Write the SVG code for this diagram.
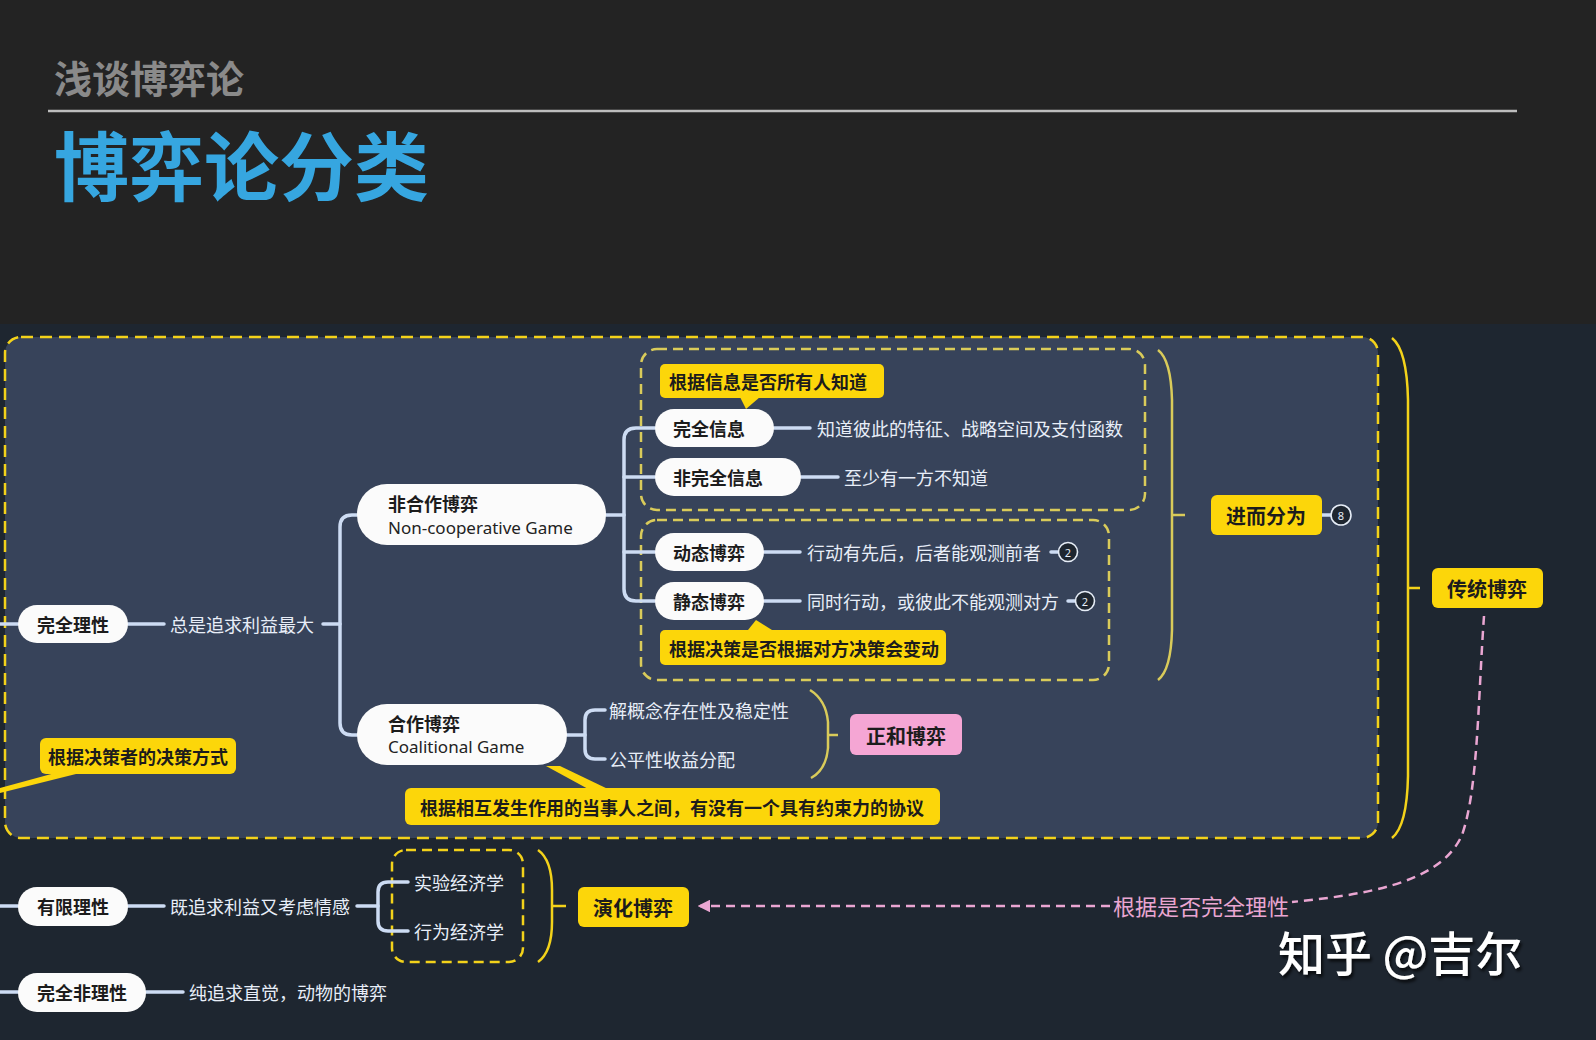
<svg xmlns="http://www.w3.org/2000/svg" width="1596" height="1040" viewBox="0 0 1596 1040">
<defs>
<style>
.cjk{font-family:"Noto Sans CJK SC","Noto Sans",sans-serif}
.pill{fill:#fbfbfb}
.pt{font-family:"Noto Sans CJK SC","Noto Sans",sans-serif;font-size:18px;font-weight:700;fill:#1c1c1c;dominant-baseline:central}
.en{font-family:"Noto Sans","Noto Sans CJK SC",sans-serif;font-size:17px;fill:#222;dominant-baseline:central}
.dt{font-family:"Noto Sans CJK SC","Noto Sans",sans-serif;font-size:18px;fill:#e8eef8;dominant-baseline:central}
.yb{fill:#fcd60a}
.ct{font-family:"Noto Sans CJK SC","Noto Sans",sans-serif;font-size:18px;font-weight:700;fill:#1c1c1c;dominant-baseline:central}
.bt{font-family:"Noto Sans CJK SC","Noto Sans",sans-serif;font-size:20px;font-weight:700;fill:#1c1c1c;dominant-baseline:central;text-anchor:middle}
.ln{fill:none;stroke:#cddcf3;stroke-width:3.5;stroke-linecap:round}
.br{fill:none;stroke:#f3d21a;stroke-width:2.5}
.brm{fill:none;stroke:#d9cb5a;stroke-width:2.5}
.badge{fill:#1e2630;stroke:#e6edf7;stroke-width:1.6}
.bn{font-family:"Noto Sans",sans-serif;font-size:11px;fill:#e6edf7;text-anchor:middle;dominant-baseline:central}
</style>
<marker id="arr" viewBox="0 0 10 10" refX="8" refY="5" markerWidth="5" markerHeight="5" orient="auto">
<path d="M0,0 L10,5 L0,10 z" fill="#eaa6d2"/>
</marker>
<filter id="sh" x="-10%" y="-10%" width="120%" height="130%">
<feDropShadow dx="2" dy="3" stdDeviation="1.5" flood-color="#000" flood-opacity="0.7"/>
</filter>
</defs>

<!-- backgrounds -->
<rect x="0" y="0" width="1596" height="1040" fill="#1e2630"/>
<rect x="0" y="0" width="1596" height="324" fill="#232323"/>

<!-- header -->
<g id="header">
<text x="54" y="93" class="cjk" font-size="38" font-weight="700" fill="#8a8a8a">浅谈博弈论</text>
<line x1="48" y1="111" x2="1517" y2="111" stroke="#bdbdbd" stroke-width="2.5"/>
<text x="54" y="195" class="cjk" font-size="75" font-weight="700" fill="#36a6e0">博弈论分类</text>
</g>

<!-- containers -->
<g id="containers">
<rect x="5" y="337" width="1373" height="501" rx="16" fill="#37435a" stroke="#f3d21a" stroke-width="2.5" stroke-dasharray="12 7"/>
<rect x="641" y="349" width="504" height="161" rx="16" fill="none" stroke="#d9cb5a" stroke-width="2.5" stroke-dasharray="10 6"/>
<rect x="641" y="520" width="468" height="160" rx="16" fill="none" stroke="#d9cb5a" stroke-width="2.5" stroke-dasharray="10 6"/>
<rect x="392" y="850" width="131" height="112" rx="14" fill="none" stroke="#f3d21a" stroke-width="2.5" stroke-dasharray="10 6"/>
</g>

<!-- connectors -->
<g id="connectors">
<path class="ln" d="M0,624 L18,624"/>
<path class="ln" d="M128,624 L164,624"/>
<path class="ln" d="M323,624 L340,624"/>
<path class="ln" d="M357,515 L352,515 Q340,515 340,527 L340,723 Q340,735 352,735 L357,735"/>
<path class="ln" d="M606,515 L624,515"/>
<path class="ln" d="M655,428 L636,428 Q624,428 624,440 L624,589 Q624,601 636,601 L655,601"/>
<path class="ln" d="M624,477 L655,477"/>
<path class="ln" d="M624,552 L655,552"/>
<path class="ln" d="M774,428 L810,428"/>
<path class="ln" d="M801,477 L838,477"/>
<path class="ln" d="M764,552 L800,552"/>
<path class="ln" d="M764,601 L800,601"/>
<path class="ln" d="M1051,552 L1058,552"/>
<path class="ln" d="M1068,601 L1076,601"/>
<path class="ln" d="M1322,515 L1331,515"/>
<path class="ln" d="M567,735 L585,735"/>
<path class="ln" d="M605,710 L595,710 Q585,710 585,720 L585,749 Q585,759 595,759 L605,759"/>
<path class="ln" d="M0,906 L18,906"/>
<path class="ln" d="M128,906 L164,906"/>
<path class="ln" d="M357,906 L378,906"/>
<path class="ln" d="M408,882 L388,882 Q378,882 378,892 L378,921 Q378,931 388,931 L408,931"/>
<path class="ln" d="M0,992 L18,992"/>
<path class="ln" d="M146,992 L183,992"/>
<!-- braces -->
<path class="brm" d="M1158,350 Q1171,360 1172,400 L1172,630 Q1171,670 1158,680 M1172,515 L1185,515"/>
<path class="br" d="M1392,338 Q1407,350 1408,400 L1408,776 Q1407,826 1392,838 M1408,588 L1420,588"/>
<path class="brm" d="M810,690 Q826,700 828,722 L828,748 Q826,770 811,778 M828,735 L838,735"/>
<path class="br" d="M538,850 Q552,860 552,890 L552,922 Q552,952 538,962 M552,906 L566,906"/>
<!-- pink relation -->
<path d="M1484,616 C1478,700 1478,790 1462,835 C1440,885 1360,895 1292,902" fill="none" stroke="#eaa6d2" stroke-width="2.5" stroke-dasharray="9 6"/>
<path d="M1110,906 L700,906" fill="none" stroke="#eaa6d2" stroke-width="2.5" stroke-dasharray="9 6" marker-end="url(#arr)"/>
<!-- callout pointers -->
<polygon points="740,397 760,397 746,409" class="yb"/>
<polygon points="748,630 772,630 756,620" class="yb"/>
<polygon points="546,766 560,766 610,790 590,790" class="yb"/>
<polygon points="55,773 80,773 0,793 0,788" class="yb"/>
</g>

<!-- nodes -->
<g id="n-wqlx"><rect class="pill" x="18" y="605" width="110" height="38" rx="19"/><text class="pt" x="73" y="624" text-anchor="middle">完全理性</text></g>
<g id="n-zsqq"><text class="dt" x="170" y="624">总是追求利益最大</text></g>
<g id="n-fhz"><rect class="pill" x="357" y="484" width="249" height="61" rx="30"/><text class="pt" x="388" y="503">非合作博弈</text><text class="en" x="388" y="527">Non-cooperative Game</text></g>
<g id="n-hz"><rect class="pill" x="357" y="704" width="210" height="61" rx="30"/><text class="pt" x="388" y="723">合作博弈</text><text class="en" x="388" y="746">Coalitional Game</text></g>
<g id="c-xx"><rect class="yb" x="660" y="364" width="224" height="34" rx="5"/><text class="ct" x="669" y="381">根据信息是否所有人知道</text></g>
<g id="n-wqxx"><rect class="pill" x="655" y="409" width="119" height="38" rx="19"/><text class="pt" x="673" y="428">完全信息</text></g>
<g id="n-wqxx-d"><text class="dt" x="817" y="428">知道彼此的特征、战略空间及支付函数</text></g>
<g id="n-fwqxx"><rect class="pill" x="655" y="458" width="146" height="38" rx="19"/><text class="pt" x="673" y="477">非完全信息</text></g>
<g id="n-fwqxx-d"><text class="dt" x="844" y="477">至少有一方不知道</text></g>
<g id="n-dt"><rect class="pill" x="655" y="533" width="109" height="38" rx="19"/><text class="pt" x="673" y="552">动态博弈</text></g>
<g id="n-dt-d"><text class="dt" x="807" y="552">行动有先后，后者能观测前者</text><circle class="badge" cx="1068" cy="552" r="9.5"/><text class="bn" x="1068" y="552">2</text></g>
<g id="n-jt"><rect class="pill" x="655" y="582" width="109" height="38" rx="19"/><text class="pt" x="673" y="601">静态博弈</text></g>
<g id="n-jt-d"><text class="dt" x="807" y="601">同时行动，或彼此不能观测对方</text><circle class="badge" cx="1085" cy="601" r="9.5"/><text class="bn" x="1085" y="601">2</text></g>
<g id="c-jc"><rect class="yb" x="660" y="630" width="286" height="35" rx="5"/><text class="ct" x="669" y="648">根据决策是否根据对方决策会变动</text></g>
<g id="n-jgn"><text class="dt" x="609" y="710">解概念存在性及稳定性</text></g>
<g id="n-gpx"><text class="dt" x="609" y="759">公平性收益分配</text></g>
<g id="n-zh"><rect x="850" y="714" width="112" height="41" rx="6" fill="#f5a6d4"/><text class="bt" x="906" y="735">正和博弈</text></g>
<g id="c-xy"><rect class="yb" x="405" y="788" width="535" height="37" rx="6"/><text class="ct" x="420" y="807">根据相互发生作用的当事人之间，有没有一个具有约束力的协议</text></g>
<g id="c-fs"><rect class="yb" x="40" y="738" width="196" height="36" rx="6"/><text class="ct" x="48" y="756">根据决策者的决策方式</text></g>
<g id="n-jf"><rect class="yb" x="1211" y="495" width="111" height="40" rx="6"/><text class="bt" x="1266" y="515">进而分为</text><circle class="badge" cx="1341" cy="515" r="10"/><text class="bn" x="1341" y="515">8</text></g>
<g id="n-ct"><rect class="yb" x="1432" y="568" width="111" height="40" rx="6"/><text class="bt" x="1487" y="588">传统博弈</text></g>
<g id="n-yxlx"><rect class="pill" x="18" y="887" width="110" height="39" rx="19"/><text class="pt" x="73" y="906" text-anchor="middle">有限理性</text></g>
<g id="n-jzq"><text class="dt" x="170" y="906">既追求利益又考虑情感</text></g>
<g id="n-syjj"><text class="dt" x="414" y="882">实验经济学</text></g>
<g id="n-xwjj"><text class="dt" x="414" y="931">行为经济学</text></g>
<g id="n-yh"><rect class="yb" x="578" y="887" width="111" height="40" rx="6"/><text class="bt" x="633" y="907">演化博弈</text></g>
<g id="n-wqflx"><rect class="pill" x="18" y="973" width="128" height="39" rx="19"/><text class="pt" x="82" y="992" text-anchor="middle">完全非理性</text></g>
<g id="n-czq"><text class="dt" x="189" y="992">纯追求直觉，动物的博弈</text></g>
<g id="l-pink"><text x="1113" y="905" class="cjk" font-size="22" fill="#eaa6d2" dominant-baseline="central">根据是否完全理性</text></g>

<!-- watermark -->
<g id="watermark"><text x="1278" y="971" class="cjk" font-size="47" font-weight="500" fill="#ffffff" filter="url(#sh)">知乎 @吉尔</text></g>
</svg>
